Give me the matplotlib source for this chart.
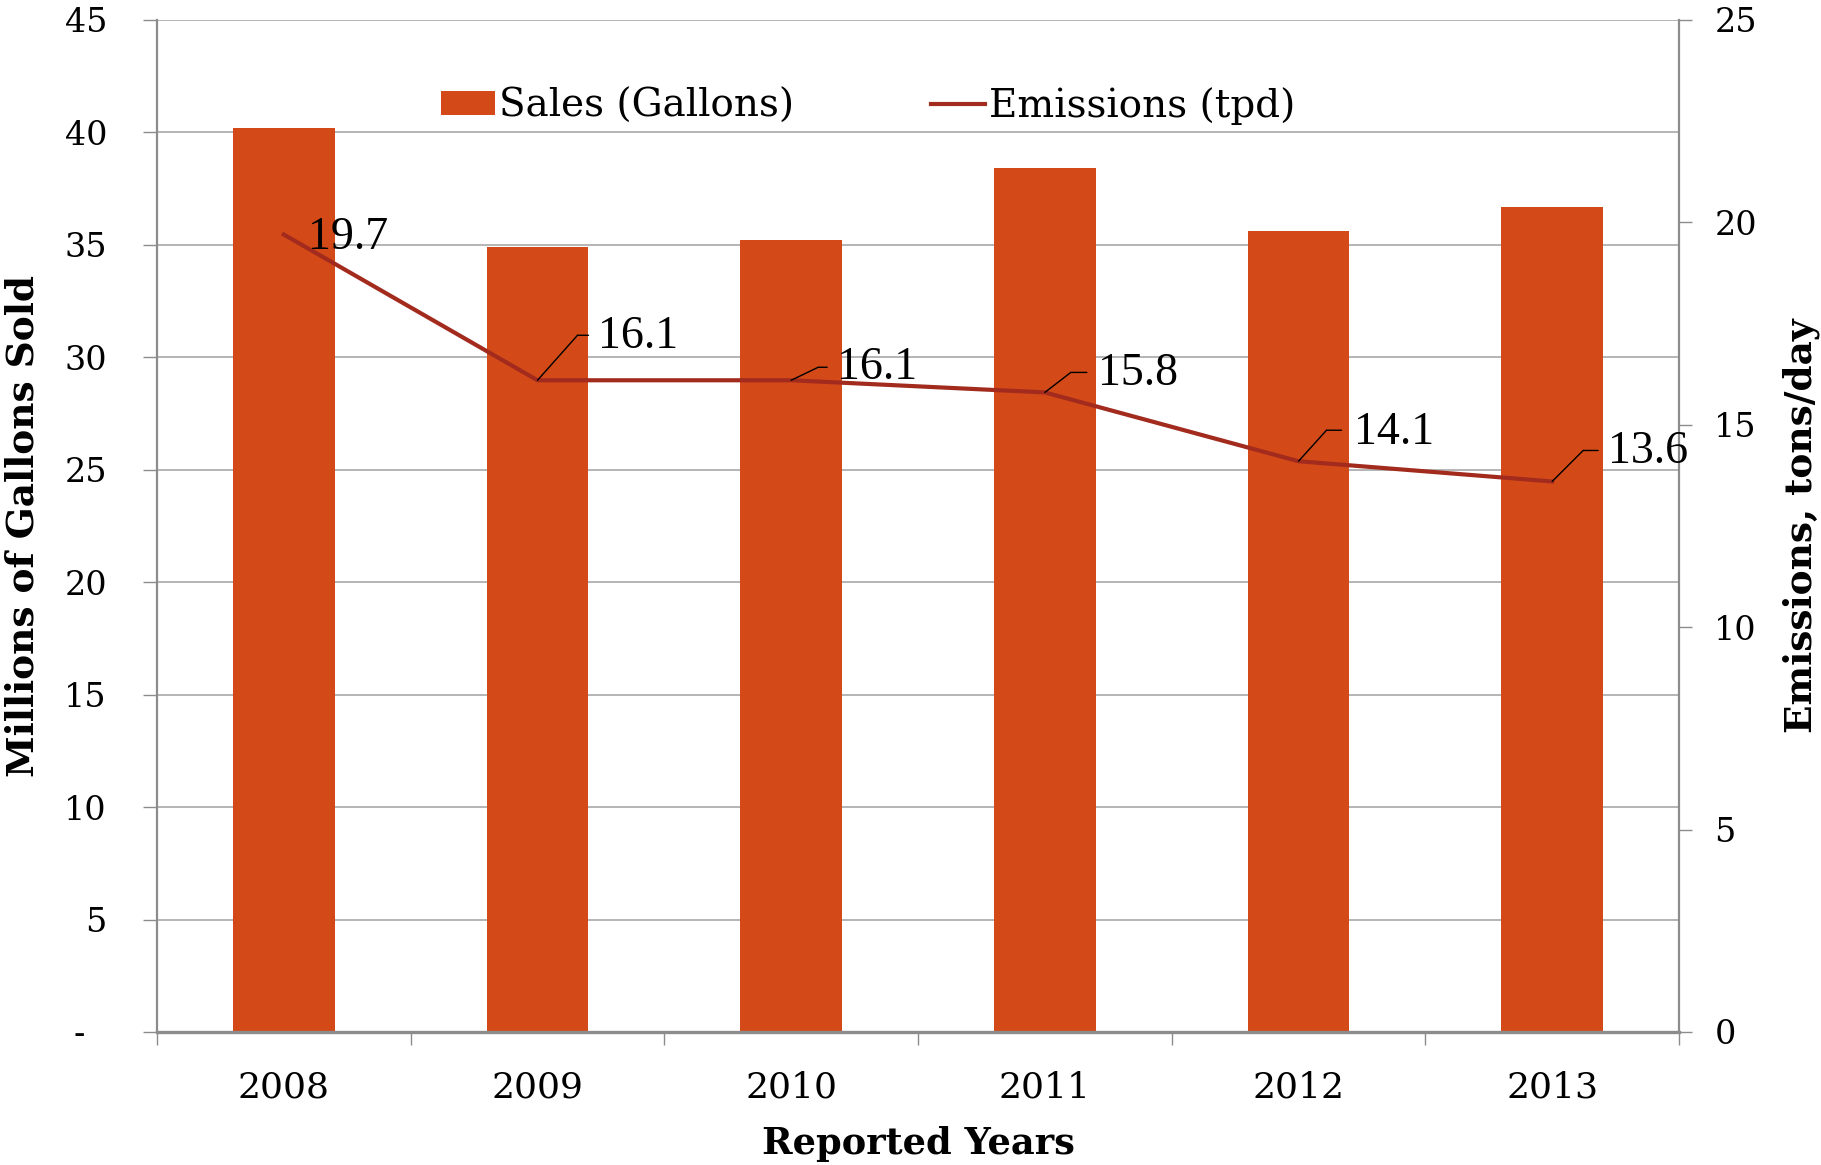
import matplotlib
matplotlib.use("Agg")
import matplotlib.pyplot as plt
from matplotlib.transforms import offset_copy
from matplotlib.patches import Patch
from matplotlib.lines import Line2D

years = ["2008", "2009", "2010", "2011", "2012", "2013"]
sales_millions = [40.2, 34.9, 35.2, 38.4, 35.6, 36.7]
emissions_tpd = [19.7, 16.1, 16.1, 15.8, 14.1, 13.6]
emission_labels = ["19.7", "16.1", "16.1", "15.8", "14.1", "13.6"]
left_ticks = [0, 5, 10, 15, 20, 25, 30, 35, 40, 45]
left_ticklabels = ["-  ", "5", "10", "15", "20", "25", "30", "35", "40", "45"]
right_ticks = [0, 5, 10, 15, 20, 25]

# label placement (pixel offsets): elbow, end of leader, text anchor
label_text_off = [(24, -3), (60, 44), (46, 13), (53, 19), (55, 28), (56, 30)]
leader_elbow = [None, (40, 45), (27, 13), (26, 20), (28, 31), (31, 31)]
leader_end = [None, (51, 45), (36, 13), (42, 20), (43, 31), (46, 31)]

BAR = "#D34A18"
LINE = "#A22B1E"
GRID = "#A8A8A8"
SPINE = "#8C8C8C"
SERIF = "DejaVu Serif"

W, H = 1821, 1165
fig = plt.figure(figsize=(W / 100, H / 100), dpi=100)
L, R, T, B = 157, 1679, 20, 1032
ax = fig.add_axes([L / W, 1 - B / H, (R - L) / W, (B - T) / H])

x = list(range(len(years)))
ax.bar(x, sales_millions, width=0.4, color=BAR, zorder=2)
ax.set_xlim(-0.5, len(years) - 0.5)
ax.set_ylim(0, 45)
ax.set_yticks(left_ticks)
ax.set_yticklabels(left_ticklabels, fontfamily=SERIF, fontsize=24)
ax.yaxis.grid(True, color=GRID, lw=1.2, zorder=0)
ax.set_axisbelow(True)

ax.set_xticks([i - 0.5 for i in range(len(years) + 1)])
ax.set_xticklabels([])
ax.set_xticks(x, minor=True)
ax.set_xticklabels(years, minor=True, fontfamily=SERIF, fontsize=26)
ax.tick_params(axis="x", which="major", length=9.5, width=1, color=SPINE, direction="out")
ax.tick_params(axis="x", which="minor", length=0, pad=28)
ax.tick_params(axis="y", length=10, width=1, color=SPINE, direction="out", pad=26)

for s in ["top", "right"]:
    ax.spines[s].set_visible(False)
ax.spines["left"].set_color(SPINE)
ax.spines["left"].set_linewidth(1.6)
ax.spines["bottom"].set_color(SPINE)
ax.spines["bottom"].set_linewidth(2.4)

ax.set_xlabel("Reported Years", fontfamily=SERIF, fontweight="bold", fontsize=26.5)
ax.xaxis.set_label_coords(0.5, (B - 1144) / (B - T))
ax.xaxis.label.set_va("center")
ax.set_ylabel("Millions of Gallons Sold", fontfamily=SERIF, fontweight="bold", fontsize=27)
ax.yaxis.set_label_coords((23 - L) / (R - L), 0.5)
ax.yaxis.label.set_va("center")

ax2 = ax.twinx()
ax2.set_ylim(0, 25)
ax2.set_yticks(right_ticks)
ax2.set_yticklabels([str(t) for t in right_ticks], fontfamily=SERIF, fontsize=24)
ax2.tick_params(axis="y", length=9.5, width=1, color=SPINE, direction="out", pad=16)
for s in ["top", "left", "bottom"]:
    ax2.spines[s].set_visible(False)
ax2.spines["right"].set_color(SPINE)
ax2.spines["right"].set_linewidth(1.6)
ax2.set_ylabel("Emissions, tons/day", fontfamily=SERIF, fontweight="bold", fontsize=27)
ax2.yaxis.set_label_coords((1801 - L) / (R - L), 0.5)
ax2.yaxis.label.set_va("center")

ax2.plot(x, emissions_tpd, color=LINE, lw=3, zorder=3)

for i, (xi, v) in enumerate(zip(x, emissions_tpd)):
    tx, ty = label_text_off[i]
    ax2.annotate(emission_labels[i], xy=(xi, v), xytext=(tx, ty), textcoords="offset pixels",
                 ha="left", va="center", fontfamily="Liberation Serif", fontsize=33, zorder=5)
    if leader_elbow[i] is not None:
        ex, ey = leader_elbow[i]
        ax2.annotate("", xy=(xi, v), xytext=(ex, ey), textcoords="offset pixels",
                     arrowprops=dict(arrowstyle="-", color="black", lw=1, shrinkA=0, shrinkB=0))
        nx, ny = leader_end[i]
        tr = offset_copy(ax2.transData, fig=fig, x=ex, y=ey, units="dots")
        ax2.annotate("", xy=(xi, v), xycoords=tr, xytext=(nx - ex, ny - ey), textcoords="offset pixels",
                     arrowprops=dict(arrowstyle="-", color="black", lw=1, shrinkA=0, shrinkB=0))

handles = [Patch(facecolor=BAR, edgecolor="none"), Line2D([0], [0], color=LINE, lw=3)]
leg = fig.legend(handles, ["Sales (Gallons)", "Emissions (tpd)"], ncol=2, frameon=False,
                 loc="center left", bbox_to_anchor=(441 / W, 1 - 106 / H),
                 prop={"family": SERIF, "size": 28}, handlelength=1.4, handleheight=0.55,
                 handletextpad=0.1, columnspacing=3.5, borderpad=0, borderaxespad=0)

fig.savefig("out.png", dpi=100)
